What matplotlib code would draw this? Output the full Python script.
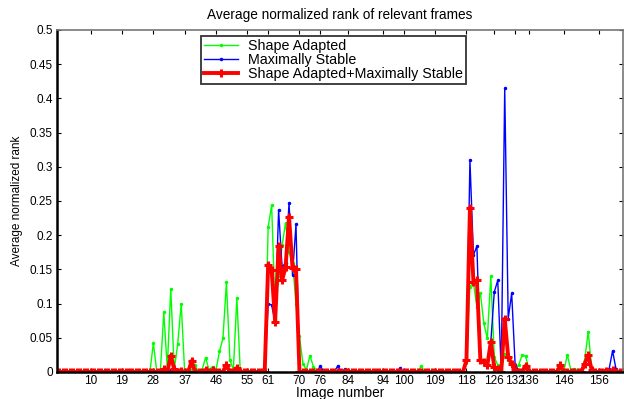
import matplotlib
matplotlib.use("Agg")
import matplotlib.pyplot as plt

plt.rcParams['font.family'] = ['Liberation Sans', 'DejaVu Sans']

# image numbers 1..163
image_number = list(range(1, 164))

shape_adapted = [
    0, 0, 0, 0, 0, 0, 0, 0, 0, 0,
    0, 0, 0, 0, 0, 0, 0, 0, 0, 0,
    0, 0, 0, 0, 0, 0, 0, 0.042, 0, 0,
    0.087, 0.005, 0.122, 0.003, 0.041, 0.100, 0, 0, 0.003, 0.010,
    0, 0.003, 0.021, 0.003, 0.008, 0.003, 0.030, 0.049, 0.131, 0.018,
    0.003, 0.108, 0, 0, 0, 0, 0, 0, 0, 0,
    0.212, 0.244, 0.090, 0.140, 0.185, 0.218, 0.175, 0.160, 0.100, 0.052,
    0.012, 0.003, 0.024, 0.008, 0.002, 0, 0, 0, 0, 0,
    0, 0, 0, 0, 0, 0, 0, 0, 0, 0,
    0, 0, 0, 0, 0, 0, 0, 0, 0, 0,
    0, 0, 0, 0, 0.009, 0, 0, 0, 0, 0,
    0, 0, 0, 0, 0, 0, 0, 0.017, 0.125, 0.131,
    0.095, 0.115, 0.071, 0.049, 0.140, 0.022, 0.010, 0.003, 0.026, 0.018,
    0.010, 0.005, 0.010, 0.025, 0.023, 0.003, 0, 0, 0, 0,
    0, 0, 0, 0, 0.003, 0.002, 0.025, 0.003, 0.005, 0.003,
    0.003, 0.018, 0.059, 0.005, 0, 0, 0, 0, 0, 0,
    0, 0, 0,
]

maximally_stable = [
    0, 0, 0, 0, 0, 0, 0, 0, 0, 0,
    0, 0, 0, 0, 0, 0, 0, 0, 0, 0,
    0, 0, 0, 0, 0, 0, 0, 0, 0, 0,
    0, 0, 0.003, 0, 0, 0, 0, 0, 0.018, 0,
    0, 0, 0, 0, 0, 0, 0, 0, 0.009, 0,
    0, 0, 0, 0, 0, 0, 0, 0, 0, 0,
    0.100, 0.098, 0.073, 0.237, 0.153, 0.160, 0.247, 0.142, 0.216, 0,
    0, 0, 0, 0, 0, 0.009, 0, 0, 0, 0,
    0.009, 0, 0.004, 0, 0, 0, 0, 0, 0, 0,
    0, 0, 0, 0, 0, 0, 0, 0, 0.006, 0,
    0, 0, 0, 0, 0, 0, 0, 0, 0, 0,
    0, 0, 0, 0, 0, 0, 0, 0.017, 0.310, 0.171,
    0.184, 0.017, 0.015, 0.010, 0.044, 0.117, 0.134, 0, 0.415, 0.078,
    0.115, 0.010, 0.003, 0, 0.009, 0, 0, 0, 0, 0,
    0, 0, 0, 0, 0.008, 0, 0, 0, 0, 0,
    0, 0.010, 0.020, 0, 0, 0, 0, 0, 0.004, 0.031,
    0.004, 0, 0,
]

combined = [
    0, 0, 0, 0, 0, 0, 0, 0, 0, 0,
    0, 0, 0, 0, 0, 0, 0, 0, 0, 0,
    0, 0, 0, 0, 0, 0, 0, 0, 0, 0,
    0.004, 0, 0.024, 0.004, 0, 0.002, 0, 0, 0.016, 0,
    0, 0, 0.003, 0, 0.003, 0, 0, 0, 0.010, 0,
    0, 0.006, 0, 0, 0, 0, 0, 0, 0, 0,
    0.157, 0.149, 0.073, 0.184, 0.134, 0.153, 0.227, 0.152, 0.150, 0,
    0, 0, 0, 0, 0, 0, 0, 0, 0, 0,
    0, 0, 0, 0, 0, 0, 0, 0, 0, 0,
    0, 0, 0, 0, 0, 0, 0, 0, 0, 0,
    0, 0, 0, 0, 0, 0, 0, 0, 0, 0,
    0, 0, 0, 0, 0, 0, 0, 0.0175, 0.240, 0.132,
    0.134, 0.0175, 0.015, 0.010, 0.044, 0.007, 0.005, 0, 0.078, 0.022,
    0.012, 0.003, 0, 0, 0.009, 0, 0, 0, 0, 0,
    0, 0, 0, 0, 0.010, 0, 0, 0, 0, 0,
    0, 0.012, 0.025, 0.003, 0, 0, 0, 0.002, 0, 0.003,
    0, 0, 0,
]

xtick_values = [10, 19, 28, 37, 46, 55, 61, 70, 76, 84, 94, 100, 109, 118,
                126, 132, 136, 146, 156]
ytick_values = [0, 0.05, 0.1, 0.15, 0.2, 0.25, 0.3, 0.35, 0.4, 0.45, 0.5]
ytick_labels = ['0', '0.05', '0.1', '0.15', '0.2', '0.25', '0.3', '0.35',
                '0.4', '0.45', '0.5']

fig = plt.figure(figsize=(6.24, 3.99), dpi=100)
W, H = 624, 399
left, right, top, bottom = 57, 623, 30, 372
ax = fig.add_axes([left / W, 1 - bottom / H, (right - left) / W, (bottom - top) / H])

ax.plot(image_number, shape_adapted, color='#00ff00', lw=1.0, marker='.',
        ms=3, label='Shape Adapted')
ax.plot(image_number, maximally_stable, color='#0000ff', lw=1.0, marker='.',
        ms=3, label='Maximally Stable')
ax.plot(image_number, combined, color='#ff0000', lw=2.8, marker='+',
        ms=6, mew=2.2, label='Shape Adapted+Maximally Stable')

ax.set_xlim(0.3, 163.0)
ax.set_ylim(0, 0.5)
ax.set_xticks(xtick_values)
ax.set_xticklabels([str(v) for v in xtick_values])
ax.set_yticks(ytick_values)
ax.set_yticklabels(ytick_labels)
ax.tick_params(direction='in', top=True, right=True, length=3, width=0.8,
               labelsize=8.5, pad=3)
ax.tick_params(axis='x', pad=2)

for s in ['left', 'bottom']:
    ax.spines[s].set_linewidth(1.8)
    ax.spines[s].set_color('black')
for s in ['top', 'right']:
    ax.spines[s].set_linewidth(1.2)
    ax.spines[s].set_color('#777777')

ax.set_title('Average normalized rank of relevant frames', fontsize=9.8, pad=8)
ax.set_xlabel('Image number', fontsize=9.8, labelpad=-0.5)
ax.set_ylabel('Average normalized rank', fontsize=8.5, labelpad=5)

leg = ax.legend(loc='upper left', bbox_to_anchor=(201 / W, 1 - 36 / H),
                bbox_transform=fig.transFigure, fontsize=10.3, frameon=True,
                fancybox=False, edgecolor='black', borderpad=0.2,
                labelspacing=0.0, handlelength=2.4, handletextpad=0.7,
                borderaxespad=0)
leg.get_frame().set_linewidth(1.3)

fig.savefig('out.png', dpi=100)
